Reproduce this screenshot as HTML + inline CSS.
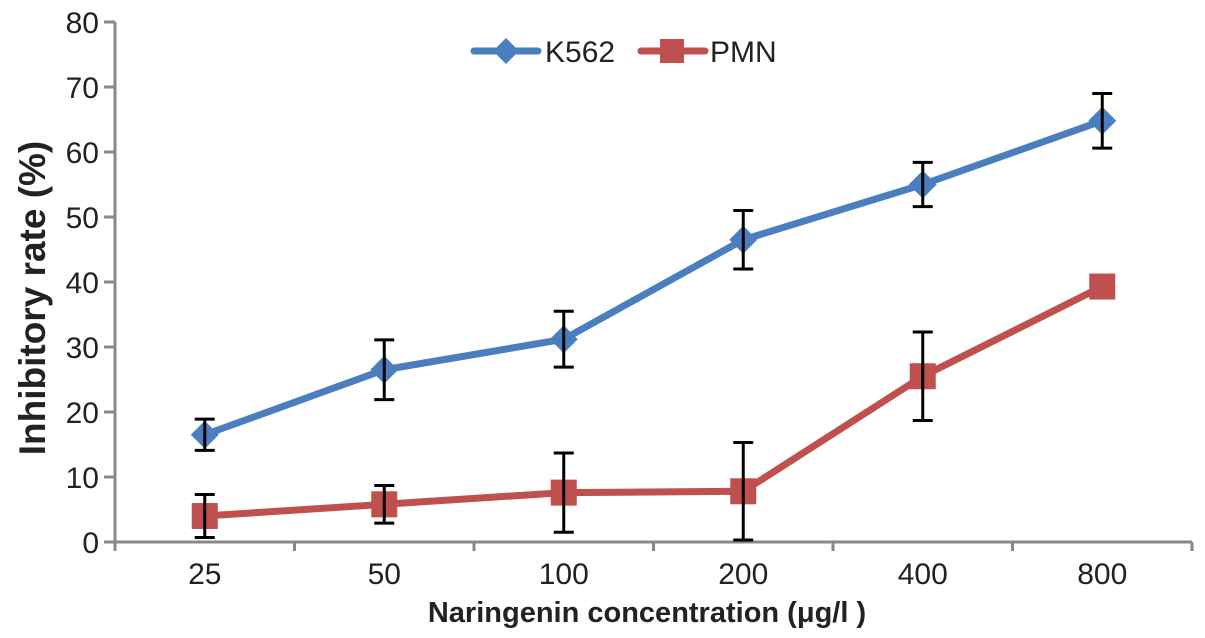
<!DOCTYPE html>
<html><head><meta charset="utf-8"><style>
body{margin:0;background:#fff}
svg{display:block;font-family:"Liberation Sans",sans-serif}
</style></head><body>
<svg id="c" width="1205" height="638"></svg>
<script>
const categories=["25","50","100","200","400","800"];
const k562=[16.5,26.5,31.2,46.5,55,64.8];
const k562Err=[2.4,4.6,4.3,4.5,3.4,4.2];
const pmn=[4,5.8,7.6,7.8,25.5,39.3];
const pmnErr=[3.3,2.9,6.1,7.5,6.8,0];
const yTicks=[0,10,20,30,40,50,60,70,80];
const NS="http://www.w3.org/2000/svg";
const svg=document.getElementById('c');
const X0=115,X1=1192,Y0=542,Y1=22,YMAX=80;
const bw=(X1-X0)/categories.length;
const xs=i=>X0+bw*(i+0.5);
const ys=v=>Y0-(v/YMAX)*(Y0-Y1);
function el(t,a,txt){const e=document.createElementNS(NS,t);for(const k in a)e.setAttribute(k,a[k]);if(txt!=null)e.textContent=txt;svg.appendChild(e);return e;}
let e;
e=el('line',{x1:X0,y1:Y1,x2:X0,y2:Y0+9,stroke:'#888','stroke-width':3});


e=el('line',{x1:X0,y1:Y0,x2:X1,y2:Y0,stroke:'#888','stroke-width':3});


yTicks.forEach(v=>{
 el('line',{x1:X0-11,y1:ys(v),x2:X0,y2:ys(v),stroke:'#888','stroke-width':3});
 e=el('text',{x:99,y:ys(v)+11,'text-anchor':'end','font-size':30,fill:'#222'},v);
 
 
});
for(let i=0;i<=categories.length;i++){el('line',{x1:X0+bw*i,y1:Y0,x2:X0+bw*i,y2:Y0+9,stroke:'#888','stroke-width':3});}
categories.forEach((c,i)=>{
 e=el('text',{x:xs(i),y:584,'text-anchor':'middle','font-size':30,fill:'#222'},c);
 
 
});
e=el('text',{x:647,y:622,'text-anchor':'middle','font-size':29,'font-weight':'bold',fill:'#222'},'Naringenin concentration (μg/l )');


e=el('text',{x:0,y:0,transform:'translate(45,298) rotate(-90)','text-anchor':'middle','font-size':37,'font-weight':'bold',fill:'#222'},'Inhibitory rate (%)');


function series(vals,errs,color,marker,name){
 let d=vals.map((v,i)=>(i?'L':'M')+xs(i)+' '+ys(v)).join(' ');
 e=el('path',{d,fill:'none',stroke:color,'stroke-width':7,'stroke-linejoin':'round'});
 
 
 vals.forEach((v,i)=>{
  const x=xs(i);
  if(marker==='d'){e=el('polygon',{points:`${x},${ys(v)-14} ${x+14},${ys(v)} ${x},${ys(v)+14} ${x-14},${ys(v)}`,fill:color});}
  else{e=el('rect',{x:x-13,y:ys(v)-13,width:26,height:26,fill:color});}
  
  
  if(errs[i]>0){
   const t=ys(v+errs[i]),b=ys(v-errs[i]);
   el('path',{d:`M${x} ${t}L${x} ${b}M${x-10} ${t}L${x+10} ${t}M${x-10} ${b}L${x+10} ${b}`,stroke:'#000','stroke-width':3,fill:'none'});
  }
 });
}
series(k562,k562Err,'#4a7ebf','d','k562');
series(pmn,pmnErr,'#c0504d','s','pmn');
el('line',{x1:474,y1:51,x2:538,y2:51,stroke:'#4a7ebf','stroke-width':7,'stroke-linecap':'round'});
el('polygon',{points:'506,38 519,51 506,64 493,51',fill:'#4a7ebf'});
e=el('text',{x:545,y:62,'font-size':30,fill:'#222'},'K562');


el('line',{x1:641,y1:51,x2:705,y2:51,stroke:'#c0504d','stroke-width':7,'stroke-linecap':'round'});
el('rect',{x:660,y:39,width:24,height:24,fill:'#c0504d'});
e=el('text',{x:710,y:62,'font-size':30,fill:'#222'},'PMN');


</script>
</body></html>
